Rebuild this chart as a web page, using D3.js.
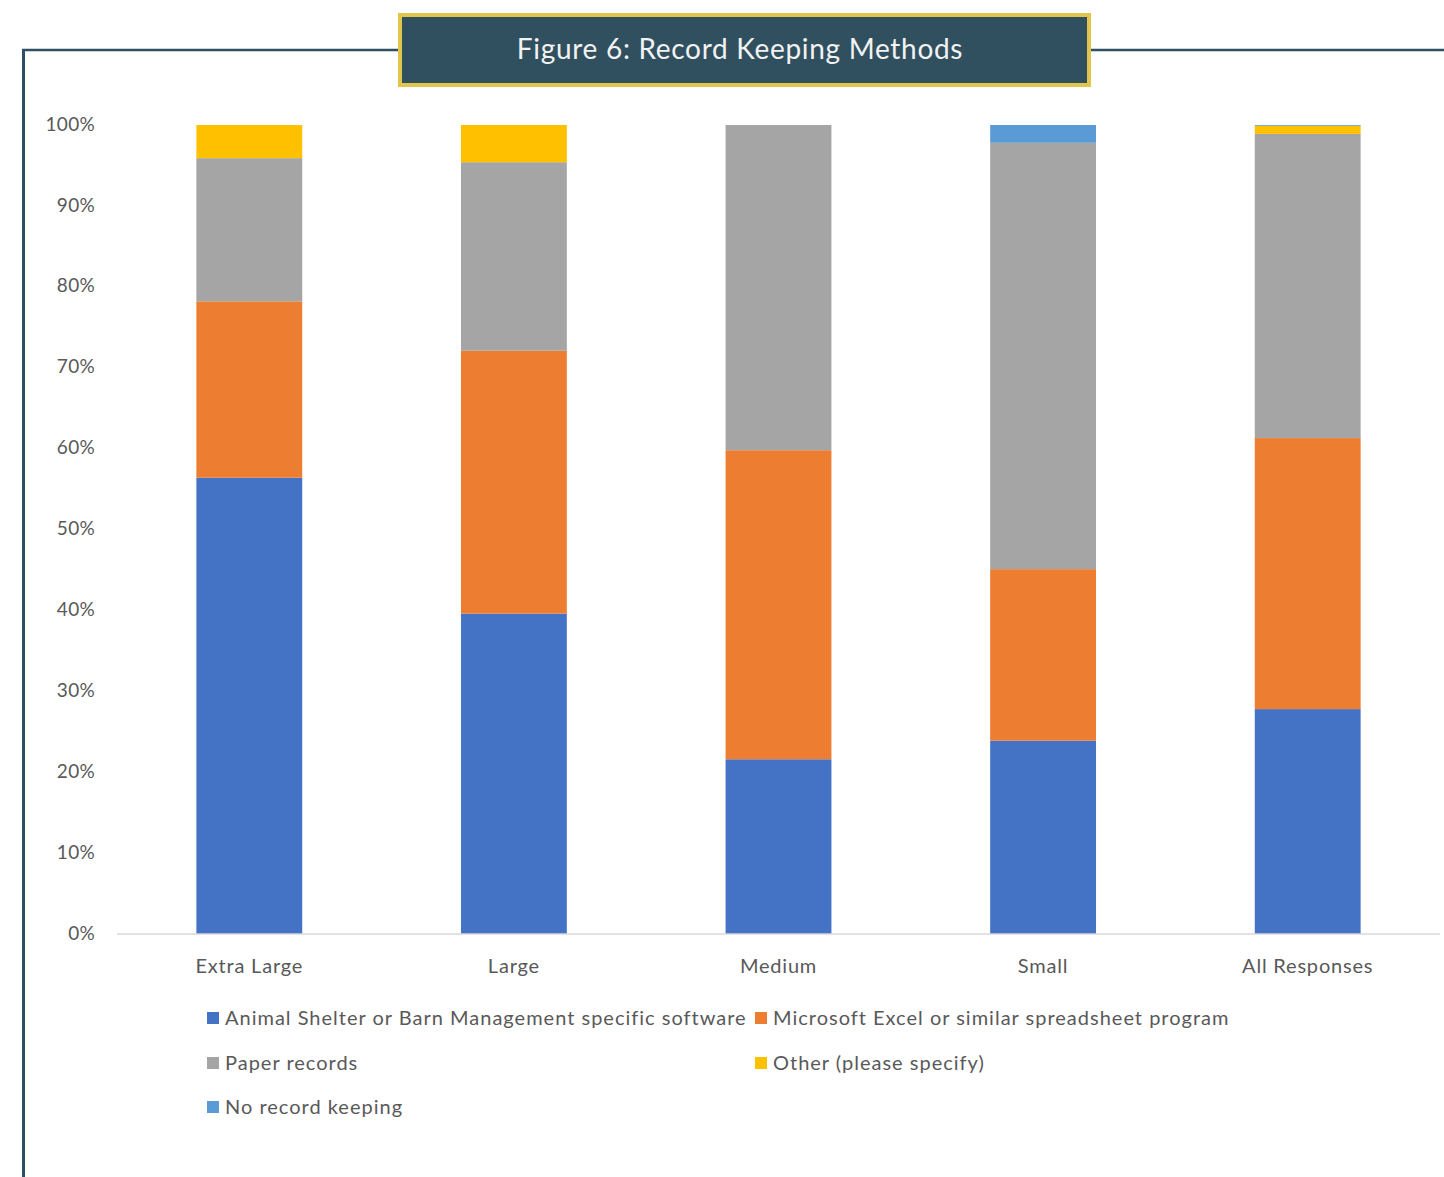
<!DOCTYPE html>
<html>
<head>
<meta charset="utf-8">
<script src="https://cdn.jsdelivr.net/npm/d3@7"></script>
<style>
  html, body { margin: 0; padding: 0; background: #ffffff; }
  svg { display: block; }
</style>
</head>
<body>
<div id="chart"></div>
<script>
// Record keeping methods by shelter size (share of responses, %)
const categories = ["Extra Large", "Large", "Medium", "Small", "All Responses"];
const seriesNames = [
  "Animal Shelter or Barn Management specific software",
  "Microsoft Excel or similar spreadsheet program",
  "Paper records",
  "Other (please specify)",
  "No record keeping"
];
const software    = [56.4, 39.6, 21.6, 23.9, 27.8];
const spreadsheet = [21.8, 32.5, 38.2, 21.2, 33.5];
const paper       = [17.7, 23.3, 40.2, 52.7, 37.6];
const other       = [4.1, 4.6, 0.0, 0.0, 1.0];
const noRecords   = [0.0, 0.0, 0.0, 2.2, 0.1];
const yTicks = [0, 10, 20, 30, 40, 50, 60, 70, 80, 90, 100];
const colors = ["#4472c4", "#ed7d31", "#a5a5a5", "#ffc000", "#5b9bd5"];

const W = 1444, H = 1177;
const svg = d3.select("#chart").append("svg").attr("width", W).attr("height", H);
const font = "Lato, 'Open Sans', sans-serif";

// outer frame
const frameColor = "#2f5062";
svg.append("line").attr("x1", 22).attr("x2", W).attr("y1", 50).attr("y2", 50)
  .attr("stroke", frameColor).attr("stroke-width", 2.5);
svg.append("line").attr("x1", 23.5).attr("x2", 23.5).attr("y1", 49).attr("y2", H)
  .attr("stroke", frameColor).attr("stroke-width", 3);

// title box
svg.append("rect").attr("x", 400).attr("y", 15).attr("width", 689).attr("height", 70)
  .attr("fill", "#31505f").attr("stroke", "#e1c54c").attr("stroke-width", 4);
svg.append("text").attr("x", 740).attr("y", 52).attr("text-anchor", "middle")
  .attr("dominant-baseline", "middle").attr("letter-spacing", 0.7)
  .attr("font-family", font).attr("font-size", 28).attr("fill", "#f2f2f2")
  .text("Figure 6: Record Keeping Methods");

// scales
const x = d3.scaleBand().domain(categories).range([117, 1440])
  .paddingInner(0.6).paddingOuter(0.3);
const y = d3.scaleLinear().domain([0, 100]).range([934, 125]);

const table = categories.map((c, i) => ({
  cat: c, s0: software[i], s1: spreadsheet[i], s2: paper[i], s3: other[i], s4: noRecords[i]
}));
const stack = d3.stack().keys(["s0", "s1", "s2", "s3", "s4"]);
const layers = stack(table);

// y tick labels
svg.append("g").selectAll("text").data(yTicks).join("text")
  .attr("x", 95).attr("y", d => y(d) - 1).attr("dy", "0.35em")
  .attr("text-anchor", "end").attr("font-family", font).attr("font-size", 19)
  .attr("letter-spacing", 0.3)
  .attr("fill", "#595959").text(d => d + "%");

// bars
svg.append("g").selectAll("g").data(layers).join("g")
  .attr("fill", (d, i) => colors[i])
  .selectAll("rect").data(d => d).join("rect")
  .attr("x", d => x(d.data.cat)).attr("width", x.bandwidth())
  .attr("y", d => y(d[1])).attr("height", d => y(d[0]) - y(d[1]));

// baseline
svg.append("line").attr("x1", 117).attr("x2", 1440).attr("y1", y(0)).attr("y2", y(0))
  .attr("stroke", "#d9d9d9").attr("stroke-width", 1.5);

// category labels
svg.append("g").selectAll("text").data(categories).join("text")
  .attr("x", d => x(d) + x.bandwidth() / 2).attr("y", 966).attr("dy", "0.35em")
  .attr("text-anchor", "middle").attr("font-family", font).attr("font-size", 20)
  .attr("letter-spacing", 0.8)
  .attr("fill", "#595959").text(d => d);

// legend
const legendPos = [[207, 1018], [755, 1018], [207, 1063], [755, 1063], [207, 1107]];
const lg = svg.append("g").selectAll("g").data(seriesNames).join("g")
  .attr("transform", (d, i) => `translate(${legendPos[i][0]},${legendPos[i][1]})`);
lg.append("rect").attr("x", 0).attr("y", -6).attr("width", 12).attr("height", 12)
  .attr("fill", (d, i) => colors[i]);
lg.append("text").attr("x", 18).attr("y", 0).attr("dy", "0.35em")
  .attr("letter-spacing", 1)
  .attr("font-family", font).attr("font-size", 20).attr("fill", "#595959").text(d => d);
</script>
</body>
</html>
